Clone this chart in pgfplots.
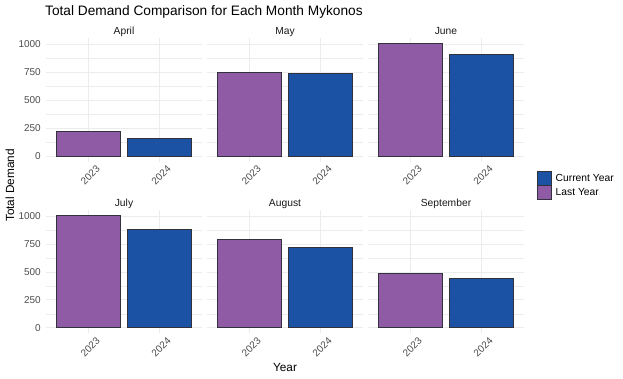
\documentclass[border=0pt]{standalone}
\usepackage{fontspec}
\setmainfont{Liberation Sans}
\usepackage{pgfplots}
\pgfplotsset{compat=1.18}
\definecolor{lastc}{RGB}{143,91,165}
\definecolor{curc}{RGB}{28,82,163}
\definecolor{edgec}{RGB}{50,50,60}
\definecolor{gridc}{RGB}{236,236,236}
\definecolor{tickc}{RGB}{77,77,77}
\newcommand{\tickf}{\fontsize{10}{11}\selectfont}
\newcommand{\smallf}{\fontsize{10.3}{12}\selectfont}
\pgfplotsset{
  every axis title/.style={at={(0.5,1)}, anchor=base, yshift=3.5pt},
  panel/.style={
    width=156pt, height=123.6pt, scale only axis,
    anchor=south west,
    xmin=0.4, xmax=2.6, ymin=-50.3, ymax=1056,
    xtick={1,2}, xticklabels={2023,2024},
    ytick={0,250,500,750,1000},
    minor ytick={125,375,625,875},
    xmajorgrids, ymajorgrids, yminorgrids,
    major grid style={draw=gridc, line width=0.5pt},
    minor grid style={draw=gridc, line width=0.25pt},
    axis line style={draw=none},
    major tick length=0pt, minor tick length=0pt,
    tick style={draw=none},
    xticklabel style={rotate=45, anchor=north east, font=\tickf, text=tickc, inner sep=0pt, xshift=3pt, yshift=-7pt},
    yticklabel style={anchor=east, font=\tickf, text=tickc, inner sep=0pt, xshift=-5pt},
    title style={font=\smallf, text=black!90},
  },
  lefty/.style={yticklabels={0,250,500,750,1000}},
  noy/.style={yticklabels={}},
  lastbar/.style={ybar, bar width=0.9, bar shift=0pt, fill=lastc, draw=edgec, line width=0.5pt},
  curbar/.style={ybar, bar width=0.9, bar shift=0pt, fill=curc, draw=edgec, line width=0.5pt},
  boxleg/.style={legend image code/.code={\draw[##1] (0pt,-6.85pt) rectangle (14pt,6.85pt);}},
}
\begin{document}
\begin{tikzpicture}
\useasboundingbox (0,0) rectangle (623pt,379pt);
% Top row
\begin{axis}[panel, lefty, at={(46pt,217.4pt)}, title={April}]
\addplot[lastbar] coordinates {(1,223)};
\addplot[curbar] coordinates {(2,161)};
\end{axis}
\begin{axis}[panel, noy, at={(207pt,217.4pt)}, title={May}]
\addplot[lastbar] coordinates {(1,747)};
\addplot[curbar] coordinates {(2,744)};
\end{axis}
\begin{axis}[panel, noy, at={(368pt,217.4pt)}, title={June}, boxleg,
  legend style={at={(1.0833,-0.076)}, anchor=north west, draw=none, fill=none,
    inner sep=0pt, row sep=0pt, column sep=4pt, font=\smallf,
    nodes={inner sep=0pt, anchor=west}},
  legend cell align=left]
\addplot[lastbar, forget plot] coordinates {(1,1006)};
\addplot[curbar, forget plot] coordinates {(2,911)};
\addlegendimage{fill=curc, draw=edgec, line width=0.5pt}
\addlegendentry{Current Year}
\addlegendimage{fill=lastc, draw=edgec, line width=0.5pt}
\addlegendentry{Last Year}
\end{axis}
% Bottom row
\begin{axis}[panel, lefty, at={(46pt,45.7pt)}, title={July}]
\addplot[lastbar] coordinates {(1,1002)};
\addplot[curbar] coordinates {(2,878)};
\end{axis}
\begin{axis}[panel, noy, at={(207pt,45.7pt)}, title={August}]
\addplot[lastbar] coordinates {(1,789)};
\addplot[curbar] coordinates {(2,718)};
\end{axis}
\begin{axis}[panel, noy, at={(368pt,45.7pt)}, title={September}]
\addplot[lastbar] coordinates {(1,483)};
\addplot[curbar] coordinates {(2,441)};
\end{axis}
% Titles
\node[anchor=base west, inner sep=0pt, font=\fontsize{13.7}{16}\selectfont] at (45pt,363pt) {Total Demand Comparison for Each Month Mykonos};
\node[anchor=base, inner sep=0pt, font=\fontsize{11.8}{14}\selectfont] at (285pt,7pt) {Year};
\node[anchor=base, rotate=90, inner sep=0pt, font=\fontsize{11.8}{14}\selectfont] at (14pt,193.5pt) {Total Demand};
\end{tikzpicture}
\end{document}
